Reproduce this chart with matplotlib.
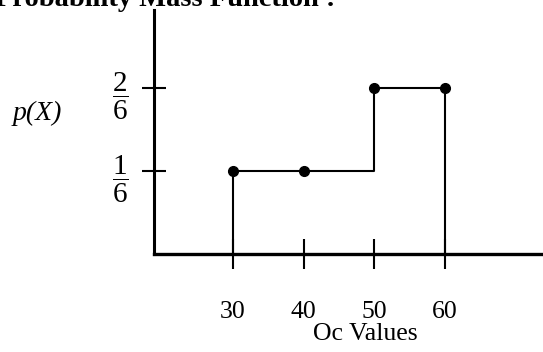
import matplotlib
matplotlib.use("Agg")
import matplotlib.pyplot as plt

x_values = [30, 40, 50, 60]
p_values = [1/6, 1/6, 2/6, 2/6]
x_tick_labels = ["30", "40", "50", "60"]
y_ticks = [1/6, 2/6]
y_tick_labels = [r"$\dfrac{1}{6}$", r"$\dfrac{2}{6}$"]
title_text = "Probability Mass Function :"
x_label = "Oc Values"
y_label = "p(X)"

plt.rcParams["font.family"] = ["Liberation Serif", "DejaVu Serif"]
plt.rcParams["mathtext.fontset"] = "custom"
plt.rcParams["mathtext.rm"] = "Liberation Serif"
plt.rcParams["mathtext.it"] = "Liberation Serif:italic"

W, H = 543, 352
fig = plt.figure(figsize=(W / 100, H / 100), dpi=100)
ax = fig.add_axes([154 / W, (H - 254) / H, 1 - 154 / W, (254 - 10) / H])
ax.set_xlim(18.8, 73.9)
ax.set_ylim(0, 0.49)

for s in ["top", "right"]:
    ax.spines[s].set_visible(False)
ax.spines["left"].set_linewidth(2.2)
ax.spines["bottom"].set_linewidth(2.4)

ax.step(x_values, p_values, where="post", color="black", lw=1.5)
ax.vlines([x_values[0], x_values[-1]], 0, [p_values[0], p_values[-1]],
          color="black", lw=1.5)
ax.plot(x_values, p_values, "o", color="black", markersize=7)

ax.set_xticks(x_values, labels=x_tick_labels)
ax.set_yticks(y_ticks, labels=y_tick_labels)
ax.tick_params(axis="x", direction="inout", length=21, width=1.5,
               labelsize=18.5, pad=23)
ax.tick_params(axis="y", direction="inout", length=17, width=1.5,
               labelsize=21, pad=9.5)

fig.text(-5 / W, (H - 6) / H, title_text, fontsize=20.5, fontweight="bold",
         ha="left", va="baseline")
fig.text(365 / W, (H - 340) / H, x_label, fontsize=18.5, ha="center",
         va="baseline")
fig.text(37 / W, (H - 113) / H, y_label, fontsize=20, style="italic",
         ha="center", va="center")

fig.savefig("out.png", dpi=100)
